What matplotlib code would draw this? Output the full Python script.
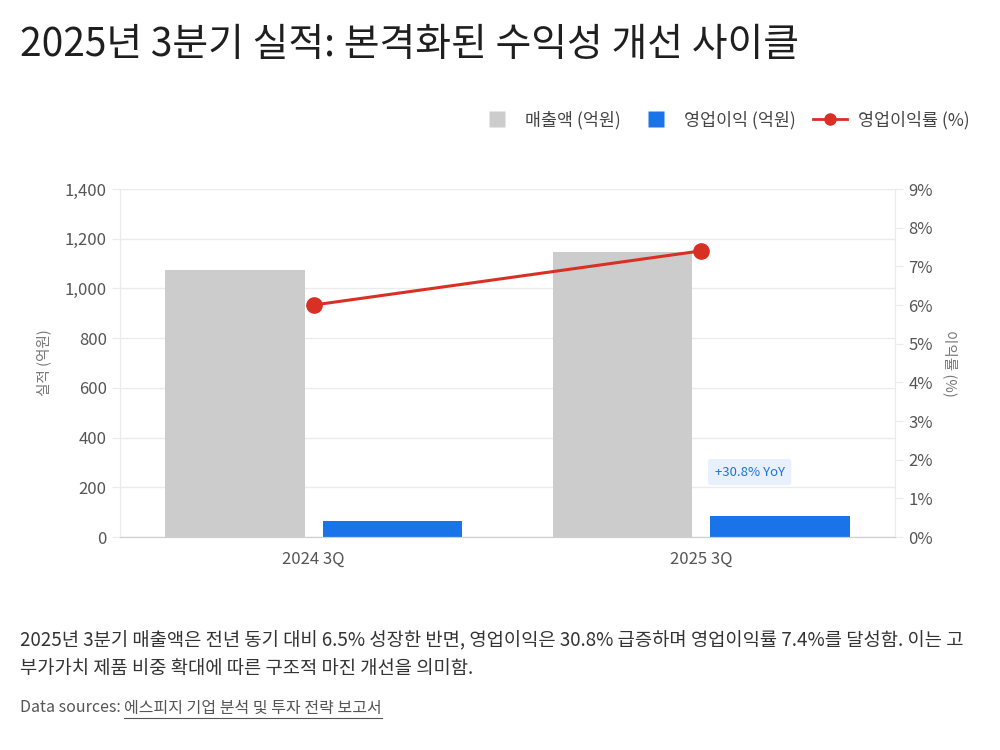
import matplotlib
matplotlib.use('Agg')
import matplotlib.pyplot as plt
from matplotlib.lines import Line2D
import numpy as np

plt.rcParams['font.family'] = ['Noto Sans CJK KR', 'DejaVu Sans']

# 데이터
quarters = ['2024 3Q', '2025 3Q']
revenue = [1075, 1145]          # 매출액 (억원)
op_profit = [64.5, 84.4]        # 영업이익 (억원)
op_margin = [6.0, 7.4]          # 영업이익률 (%)
yoy_label = '+30.8% YoY'

gray = '#cccccc'
blue = '#1a73e8'
red = '#d93025'
tick_color = '#555555'
grid_color = '#ebebeb'

fig = plt.figure(figsize=(10, 7.5), dpi=100)
ax = fig.add_axes([0.12, 0.284, 0.775, 0.464])
ax2 = ax.twinx()

x = np.arange(len(quarters))
w = 0.36
off = 0.2026
ax.bar(x - off, revenue, w, color=gray, zorder=2)
ax.bar(x + off, op_profit, w, color=blue, zorder=2)

ax.set_xlim(-0.5, 1.5)
ax.set_ylim(0, 1400)
ax.set_yticks(np.arange(0, 1401, 200))
ax.set_yticklabels([f'{v:,}' for v in range(0, 1401, 200)])
ax.set_xticks(x)
ax.set_xticklabels(quarters)
ax.grid(axis='y', color=grid_color, linewidth=1, zorder=0)
ax.set_ylabel('실적 (억원)', color='#777777', fontsize=10.5, labelpad=10)

ax2.plot(x, op_margin, color=red, linewidth=2.2, marker='o', markersize=11, zorder=5)
ax2.set_ylim(0, 9)
ax2.set_yticks(range(0, 10))
ax2.set_yticklabels([f'{v}%' for v in range(0, 10)])
ax2.set_ylabel('이익률 (%)', color='#777777', fontsize=10.5, rotation=270, labelpad=18)

for a in (ax, ax2):
    a.tick_params(colors=tick_color, labelsize=12, length=6, color=grid_color)
    a.spines['top'].set_visible(False)
    a.spines['left'].set_color(grid_color)
    a.spines['right'].set_color(grid_color)
    a.spines['bottom'].set_color('#cfcfcf')
ax.tick_params(axis='x', length=0, pad=10)

# YoY 주석
ax.text(1.125, 261, yoy_label, color=blue, fontsize=9.5, ha='center', va='center',
        bbox=dict(boxstyle='round,pad=0.5,rounding_size=0.2', fc='#e8f0fe', ec='none'), zorder=6)

# 제목
fig.text(0.02, 0.94, '2025년 3분기 실적: 본격화된 수익성 개선 사이클', fontsize=28,
         color='#1f1f1f', va='center')

# 범례
handles = [Line2D([0], [0], color='none', marker='s', markersize=12,
                  markerfacecolor=gray, markeredgecolor='none', label='매출액 (억원)'),
           Line2D([0], [0], color='none', marker='s', markersize=12,
                  markerfacecolor=blue, markeredgecolor='none', label='영업이익 (억원)'),
           Line2D([0], [0], color=red, linewidth=2, marker='o', markersize=8, label='영업이익률 (%)')]
fig.legend(handles=handles, loc='center right', bbox_to_anchor=(0.985, 0.84), ncol=3,
           frameon=False, fontsize=12.5, handlelength=2.0,
           columnspacing=1.0, handletextpad=0.6, labelcolor='#444444')

# 설명
fig.text(0.02, 0.146, '2025년 3분기 매출액은 전년 동기 대비 6.5% 성장한 반면, 영업이익은 30.8% 급증하며 영업이익률 7.4%를 달성함. 이는 고',
         fontsize=13.5, color='#333333', va='center')
fig.text(0.02, 0.109, '부가가치 제품 비중 확대에 따른 구조적 마진 개선을 의미함.',
         fontsize=13.5, color='#333333', va='center')

t1 = fig.text(0.02, 0.056, 'Data sources: ', fontsize=11.5, color='#555555', va='center')
fig.canvas.draw()
bb = t1.get_window_extent()
x2 = bb.x1 / fig.bbox.width
t2 = fig.text(x2, 0.056, '에스피지 기업 분석 및 투자 전략 보고서', fontsize=11.5,
              color='#555555', va='center')
fig.canvas.draw()
bb2 = t2.get_window_extent()
uy = bb2.y0 / fig.bbox.height - 0.002
fig.add_artist(Line2D([bb2.x0 / fig.bbox.width, bb2.x1 / fig.bbox.width], [uy, uy],
                      color='#555555', linewidth=0.8))

fig.savefig('out.png')
plt.close(fig)
